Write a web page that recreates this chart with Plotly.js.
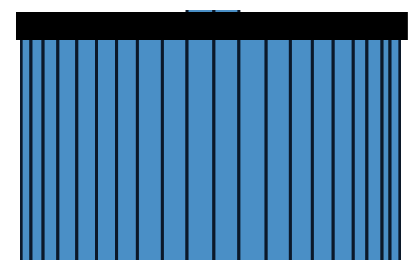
<!DOCTYPE html>
<html>
<head>
<meta charset="utf-8">
<script src="https://cdn.plot.ly/plotly-3.0.1.min.js"></script>
<style>html,body{margin:0;padding:0;background:#fff;}#chart{width:420px;height:260px;}</style>
</head>
<body>
<div id="chart"></div>
<script>
// Bin edges (data units) and bar heights
const binEdges = [0, 2.6, 5.8, 9.7, 14.7, 19.9, 25.2, 30.7, 37.3, 43.8, 50.9, 57.5, 64.7, 71.1, 76.9, 82.4, 87.7, 91.3, 95.3, 97.4, 100];
const counts = [96.0, 96.2, 96.5, 96.8, 97.1, 97.5, 97.9, 98.4, 99.0, 105, 105, 99.0, 98.4, 97.9, 97.5, 97.1, 96.8, 96.5, 96.2, 96.0];

const centers = [], widths = [];
for (let i = 0; i < counts.length; i++) {
  centers.push((binEdges[i] + binEdges[i + 1]) / 2);
  widths.push(binEdges[i + 1] - binEdges[i]);
}

const trace = {
  type: 'bar',
  x: centers,
  y: counts,
  width: widths,
  marker: { color: '#4a8fc6', line: { color: '#0b1829', width: 3 } },
  hoverinfo: 'skip'
};

const layout = {
  width: 420, height: 260,
  margin: { l: 20, r: 19, t: 10, b: 0, pad: 0 },
  paper_bgcolor: '#ffffff', plot_bgcolor: '#ffffff',
  showlegend: false,
  xaxis: { range: [-0.3, 100.3], visible: false, fixedrange: true },
  yaxis: { range: [60, 100], visible: false, fixedrange: true },
  shapes: [{
    type: 'rect', xref: 'paper', yref: 'paper',
    x0: -0.0105, x1: 1.018, y0: 0.88, y1: 0.992,
    fillcolor: '#000000', line: { width: 0 }, layer: 'above'
  }]
};

Plotly.newPlot('chart', [trace], layout, { displayModeBar: false, staticPlot: true });
</script>
</body>
</html>
